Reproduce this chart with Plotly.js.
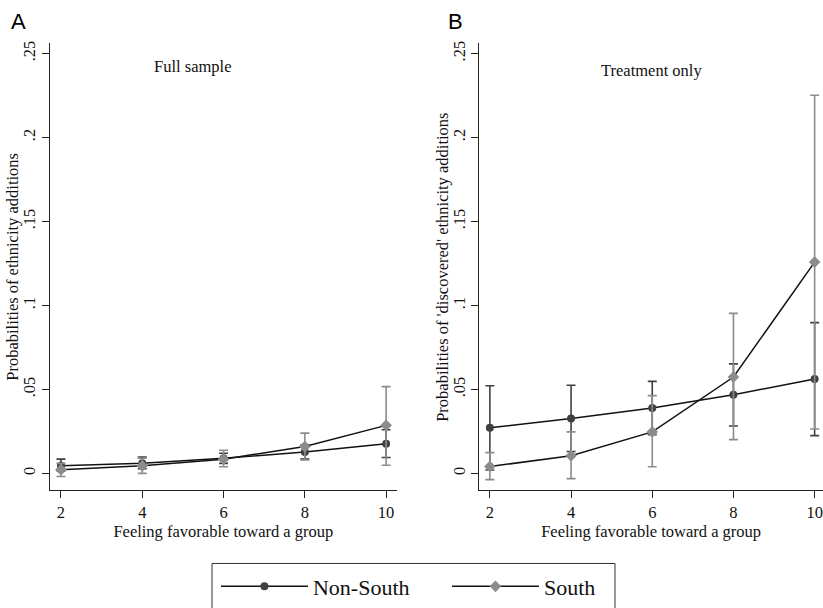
<!DOCTYPE html>
<html>
<head>
<meta charset="utf-8">
<script src="https://cdn.plot.ly/plotly-3.0.1.min.js"></script>
<style>html,body{margin:0;padding:0;background:#fff;}#chart{width:823px;height:608px;}</style>
</head>
<body>
<div id="chart"></div>
<script>
// ---- data ----
const feeling = [2, 4, 6, 8, 10];
const xTickLabels = ['2', '4', '6', '8', '10'];
const yTickVals = [0, 0.05, 0.1, 0.15, 0.2, 0.25];
const yTickLabels = ['0', '.05', '.1', '.15', '.2', '.25'];
const panelTitles = ['Full sample', 'Treatment only'];
const yTitles = ['Probabilities of ethnicity additions', "Probabilities of 'discovered' ethnicity additions"];
const xTitle = 'Feeling favorable toward a group';

// Panel A: Full sample
const fullNonSouth   = [0.0045, 0.0060, 0.0090, 0.0128, 0.0177];
const fullNonSouthLo = [0.0015, 0.0028, 0.0060, 0.0085, 0.0095];
const fullNonSouthHi = [0.0085, 0.0098, 0.0120, 0.0170, 0.0260];
const fullSouth      = [0.0022, 0.0045, 0.0085, 0.0160, 0.0286];
const fullSouthLo    = [-0.0018, 0.0000, 0.0040, 0.0080, 0.0049];
const fullSouthHi    = [0.0060, 0.0090, 0.0138, 0.0240, 0.0517];

// Panel B: Treatment only
const treatNonSouth   = [0.0272, 0.0327, 0.0390, 0.0469, 0.0562];
const treatNonSouthLo = [0.0020, 0.0130, 0.0230, 0.0282, 0.0225];
const treatNonSouthHi = [0.0522, 0.0525, 0.0548, 0.0652, 0.0898];
const treatSouth      = [0.0041, 0.0105, 0.0247, 0.0574, 0.1258];
const treatSouthLo    = [-0.0037, -0.0031, 0.0040, 0.0201, 0.0264];
const treatSouthHi    = [0.0124, 0.0247, 0.0463, 0.0953, 0.2252];

// ---- styles ----
const serif = 'Liberation Serif, Times New Roman, serif';
const darkCol = '#404040';
const greyCol = '#8c8c8c';

function errs(v, lo, hi, col) {
  return {
    type: 'data', symmetric: false,
    array: hi.map((h, i) => h - v[i]),
    arrayminus: lo.map((l, i) => v[i] - l),
    color: col, thickness: 1.6, width: 4.5
  };
}

function trace(v, lo, hi, name, isSouth, xa, ya, showleg) {
  return {
    x: feeling, y: v, name: name, type: 'scatter', mode: 'lines+markers',
    xaxis: xa, yaxis: ya, showlegend: showleg,
    line: {color: '#111', width: 1.5},
    marker: isSouth ? {symbol: 'diamond', size: 9, color: greyCol}
                    : {symbol: 'circle', size: 8, color: darkCol},
    error_y: errs(v, lo, hi, isSouth ? greyCol : darkCol),
    hoverinfo: 'x+y+name'
  };
}

const data = [
  trace(fullNonSouth, fullNonSouthLo, fullNonSouthHi, 'Non-South', false, 'x', 'y', true),
  trace(fullSouth, fullSouthLo, fullSouthHi, 'South', true, 'x', 'y', true),
  trace(treatNonSouth, treatNonSouthLo, treatNonSouthHi, 'Non-South', false, 'x2', 'y2', false),
  trace(treatSouth, treatSouthLo, treatSouthHi, 'South', true, 'x2', 'y2', false)
];

function xax(domain, range, anchor) {
  return {
    domain: domain, range: range, anchor: anchor,
    tickvals: feeling, ticktext: xTickLabels,
    showline: true, linecolor: '#222', linewidth: 1.2,
    ticks: 'outside', ticklen: 7, tickwidth: 1.2, tickcolor: '#222',
    showgrid: false, zeroline: false,
    tickfont: {family: serif, size: 16.5, color: '#111'},
    title: {text: xTitle, font: {family: serif, size: 16.5, color: '#111'}, standoff: 2}
  };
}
function yax(anchor) {
  return {
    range: [-0.00988, 0.25627], anchor: anchor,
    tickvals: yTickVals, ticktext: yTickLabels, tickangle: -90,
    showline: true, linecolor: '#222', linewidth: 1.2,
    ticks: 'outside', ticklen: 7, tickwidth: 1.2, tickcolor: '#222',
    showgrid: false, zeroline: false,
    tickfont: {family: serif, size: 16.5, color: '#111'}
  };
}

const txtFont = {family: serif, size: 16.5, color: '#111'};
const labFont = {family: 'Liberation Sans, Arial, sans-serif', size: 22, color: '#000'};

const layout = {
  width: 823, height: 608,
  margin: {l: 50, r: 0, t: 42.7, b: 115.3},
  paper_bgcolor: '#fff', plot_bgcolor: '#fff',
  xaxis: xax([0, 0.4485], [1.73, 10.26], 'y'),
  yaxis: yax('x'),
  xaxis2: xax([0.5554, 1], [1.74, 10.206], 'y2'),
  yaxis2: yax('x2'),
  showlegend: true,
  legend: {
    orientation: 'h', x: 0.2147, xanchor: 'left', y: -0.1689, yanchor: 'top',
    borderwidth: 0, bgcolor: 'rgba(0,0,0,0)',
    font: {family: serif, size: 22, color: '#111'},
    itemwidth: 87, entrywidth: 129, entrywidthmode: 'pixels', tracegroupgap: 0
  },
  shapes: [
    {type: 'rect', xref: 'paper', yref: 'paper', x0: 0.2096, x1: 0.7309, y0: -0.1644, y1: -0.2718,
     line: {color: '#333', width: 1}, fillcolor: 'rgba(0,0,0,0)', layer: 'below'}
  ],
  annotations: [
    {text: panelTitles[0], xref: 'x', yref: 'y', x: 5.23, y: 0.2425, showarrow: false, font: txtFont},
    {text: panelTitles[1], xref: 'x2', yref: 'y2', x: 5.98, y: 0.2401, showarrow: false, font: txtFont},
    {text: yTitles[0], xref: 'paper', yref: 'paper', x: -0.0479, y: 0.4993, textangle: -90,
     xanchor: 'center', yanchor: 'middle', showarrow: false, font: txtFont},
    {text: yTitles[1], xref: 'paper', yref: 'paper', x: 0.5084, y: 0.4993, textangle: -90,
     xanchor: 'center', yanchor: 'middle', showarrow: false, font: txtFont},
    {text: 'A', xref: 'paper', yref: 'paper', x: -0.0407, y: 1.048, xanchor: 'center', yanchor: 'middle', showarrow: false, font: labFont},
    {text: 'B', xref: 'paper', yref: 'paper', x: 0.5252, y: 1.048, xanchor: 'center', yanchor: 'middle', showarrow: false, font: labFont}
  ]
};

Plotly.newPlot('chart', data, layout, {displayModeBar: false, responsive: false});
</script>
</body>
</html>
